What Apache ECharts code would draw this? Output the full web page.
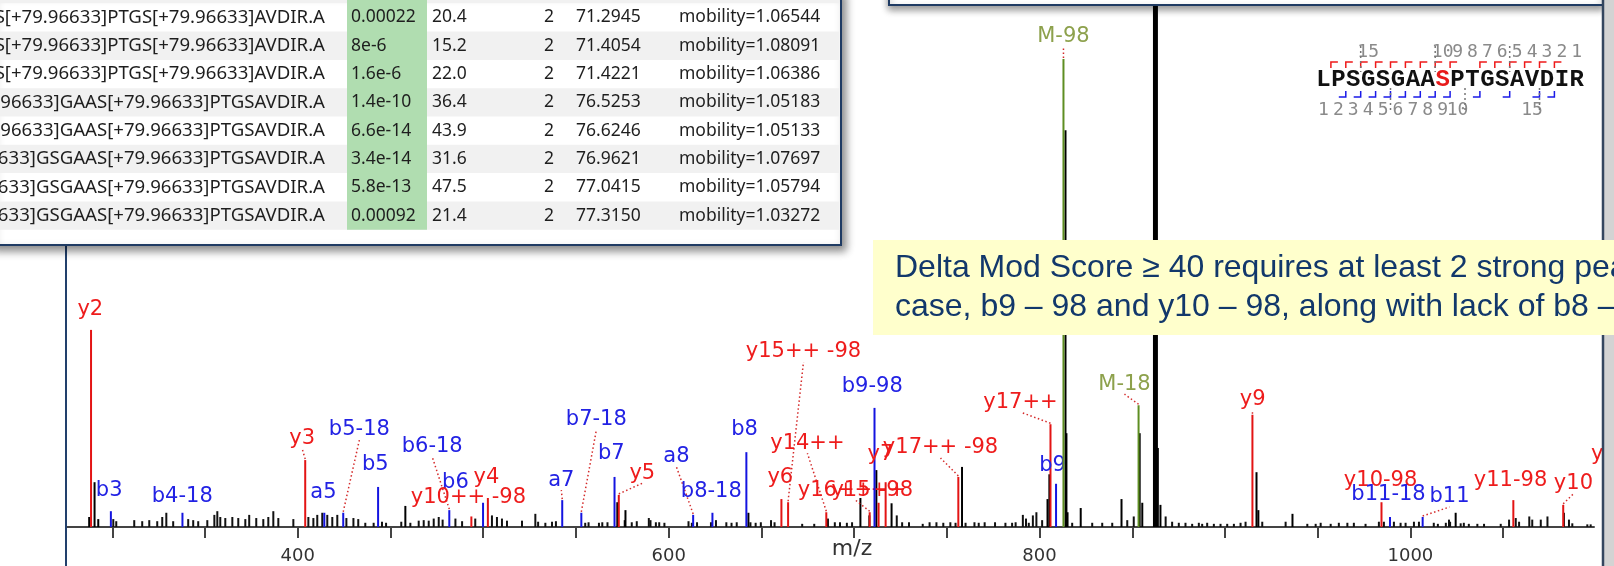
<!DOCTYPE html>
<html>
<head>
<meta charset="utf-8">
<script src="https://cdn.jsdelivr.net/npm/echarts@6.0.0/dist/echarts.min.js"></script>
<style>
html, body { margin: 0; padding: 0; background: #fff; }
#spectrum { width: 1614px; height: 566px; }
</style>
</head>
<body>
<div id="spectrum"></div>
<script>
// m/z axis
const mzMin = 275, mzMax = 1099;
const tickValues = [300, 350, 400, 450, 500, 550, 600, 650, 700, 750, 800, 850, 900, 950, 1000, 1050];
const tickLabels = [400, 600, 800, 1000];

// matched fragment ions: name, peak m/z, peak intensity (% of plot height), label anchor
const ionNames = ['y2', 'b3', 'b4-18', 'y3', 'a5', 'b5-18', 'b5', 'b6-18', 'b6', 'y4', 'y10++ -98', 'a7',
  'b7-18', 'b7', 'y5', 'a8', 'b8-18', 'b8', 'y6', 'y15++ -98', 'y14++', 'y16++ -98', 'y15++', 'b9-98', 'y7',
  'y17++ -98', 'y17++', 'b9', 'M-98', 'M-18', 'y9', 'y10-98', 'b11-18', 'b11', 'y11-98', 'y10', 'y11'];
const ionMz = [288.5, 299.2, 337.8, 404.0, 414.3, 424.5, 443.3, 481.7, 499.9, 502.5, 493.6, 542.6,
  552.9, 570.8, 573.1, 613.2, 623.6, 641.9, 660.8, 664.4, 685.0, 708.4, 713.2, 711.0, 717.0,
  756.2, 805.9, 808.9, 812.9, 853.4, 914.8, 984.4, 989.0, 1006.6, 1055.5, 1082.4, 1108.0];
const ionIntensity = [37.4, 3.0, 2.7, 12.7, 2.7, 2.7, 7.6, 3.2, 4.6, 5.5, 2.0, 5.1,
  2.7, 9.5, 6.1, 2.3, 2.7, 14.2, 5.3, 4.7, 2.8, 2.8, 4.6, 22.6, 8.5,
  9.5, 19.5, 8.2, 88.8, 23.1, 21.3, 4.7, 1.9, 1.9, 5.1, 4.2, 9.0];
const labelMz = [288.1, 298.3, 337.7, 402.4, 413.8, 433.2, 441.8, 472.5, 485.0, 501.7, 492.0, 542.1,
  561.0, 569.1, 585.8, 604.2, 623.0, 640.9, 660.2, 672.7, 674.8, 700.7, 707.8, 709.8, 714.2,
  746.6, 789.7, 807.0, 812.9, 845.8, 914.9, 983.9, 988.2, 1021.1, 1054.0, 1087.9, 1108.0];
const labelIntensity = [41.2, 7.0, 5.7, 16.7, 6.6, 18.4, 11.8, 15.2, 8.5, 9.3, 5.5, 8.9,
  20.3, 14.0, 10.2, 13.3, 6.8, 18.4, 9.3, 33.2, 15.9, 7.0, 7.0, 26.6, 13.7,
  15.0, 23.7, 11.6, 93.0, 27.1, 24.1, 8.9, 6.1, 5.7, 8.9, 8.2, 13.7];
const leaderIons = ['y3', 'b5-18', 'b6-18', 'a7', 'b7-18', 'y5', 'a8', 'y15++ -98', 'y14++', 'y16++ -98',
  'y17++ -98', 'y17++', 'M-98', 'M-18', 'y9', 'b11', 'y10'];

// unmatched peaks [m/z, intensity]
const otherPeaks = [
  [290.4, 8.5], [287.5, 1.9], [292.4, 1.5], [458.0, 4.0], [572.3, 4.7], [576.7, 3.2], [643.0, 2.7],
  [703.4, 5.5], [712.0, 10.8], [720.2, 4.5], [758.2, 11.4], [805.3, 10.0], [804.3, 5.3],
  [814.0, 75.3], [814.5, 17.8], [815.1, 2.8], [822.2, 3.6], [844.2, 5.3], [854.0, 17.8], [855.4, 4.6],
  [861.7, 100], [862.2, 100], [862.8, 100], [863.3, 100], [863.8, 15.0], [865.2, 4.2],
  [917.0, 10.4], [918.0, 3.2], [936.4, 2.5], [1024.4, 2.7]
];
const noisePeaks = [
  [300.5, 1.5], [302.1, 1.1], [311.8, 1.3], [316.1, 1.1], [319.9, 1.3], [324.2, 1.1], [326.9, 1.9], [329.1, 2.7],
  [332.8, 1.1], [340.9, 1.5], [343.6, 1.3], [346.3, 1.1], [351.2, 1.3], [355.0, 2.3], [356.6, 3.0], [358.2, 1.9],
  [360.9, 1.7], [364.7, 1.9], [367.9, 1.7], [371.7, 1.5], [373.8, 2.3], [377.6, 1.7], [381.4, 1.5], [384.1, 1.9],
  [386.8, 3.0], [389.5, 1.7], [397.6, 1.5], [405.7, 1.9], [408.4, 1.7], [410.5, 2.3], [413.2, 2.7], [415.9, 2.3],
  [418.6, 1.9], [421.3, 2.3], [426.2, 1.7], [430.0, 1.7], [432.6, 1.5], [436.4, 0.8], [440.9, 0.8], [445.4, 1.0],
  [447.6, 0.8], [455.8, 1.0], [460.7, 0.8], [465.2, 1.2], [467.9, 1.3], [470.6, 1.2], [473.3, 1.6], [476.0, 1.9],
  [478.1, 1.4], [485.0, 1.6], [488.6, 1.1], [495.7, 1.6], [504.7, 2.2], [507.4, 1.9], [510.1, 1.6], [512.8, 1.2],
  [520.9, 1.2], [528.1, 2.5], [529.6, 1.0], [533.5, 0.8], [537.1, 1.0], [539.2, 1.1], [555.0, 0.8], [556.8, 0.9],
  [562.4, 0.8], [564.2, 0.9], [567.0, 0.9], [576.3, 1.3], [580.1, 0.9], [582.8, 1.1], [589.3, 1.7], [590.2, 1.3],
  [593.1, 0.9], [594.9, 0.9], [597.7, 0.8], [610.7, 1.1], [612.5, 0.8], [615.3, 0.9], [622.8, 0.9], [625.5, 1.3],
  [631.1, 0.9], [633.9, 0.8], [636.7, 0.9], [644.1, 0.9], [646.9, 0.8], [649.7, 0.9], [655.2, 1.3], [657.1, 0.9],
  [672.0, 0.6], [678.5, 0.6], [685.9, 1.6], [689.6, 0.9], [692.4, 0.9], [696.1, 0.8], [698.9, 0.9], [708.2, 2.2],
  [723.0, 2.2], [725.9, 0.9], [729.6, 0.9], [737.0, 0.6], [740.7, 0.9], [744.4, 0.9], [748.1, 0.8], [751.9, 0.9],
  [754.7, 0.8], [760.1, 0.8], [764.9, 0.9], [767.2, 0.8], [770.4, 0.9], [776.0, 0.9], [781.6, 0.8], [785.2, 0.8],
  [787.1, 0.9], [791.0, 2.3], [792.7, 1.6], [794.2, 0.8], [796.4, 2.2], [798.3, 2.8], [801.4, 1.3], [817.6, 0.8],
  [828.4, 0.8], [833.8, 0.8], [839.2, 0.8], [847.3, 1.3], [850.8, 2.0], [868.0, 2.0], [871.5, 1.0], [875.1, 0.8],
  [878.7, 0.8], [882.3, 0.6], [885.9, 0.8], [887.7, 0.6], [890.4, 0.8], [894.0, 0.6], [897.6, 0.6], [901.2, 0.6],
  [904.8, 0.6], [908.4, 0.8], [911.1, 1.0], [920.1, 1.0], [932.7, 1.0], [944.4, 0.6], [948.9, 0.6], [951.6, 0.8],
  [957.0, 0.6], [961.4, 0.8], [966.0, 0.8], [969.5, 0.8], [975.8, 0.6], [983.0, 1.0], [985.7, 1.0], [991.1, 1.0],
  [994.7, 0.8], [997.4, 0.8], [1001.9, 1.0], [1004.6, 1.0], [1012.6, 0.8], [1014.8, 0.6], [1019.1, 0.8],
  [1020.8, 1.4], [1021.4, 1.0], [1027.1, 0.7], [1028.8, 0.8], [1031.5, 0.6], [1036.1, 0.6], [1039.7, 0.6],
  [1048.7, 0.6], [1053.2, 1.4], [1056.8, 1.7], [1058.6, 1.0], [1064.1, 2.0], [1065.7, 1.4], [1070.3, 1.4],
  [1073.9, 2.0], [1082.8, 2.7], [1085.5, 1.4], [1087.3, 0.7], [1095.4, 0.5], [1097.2, 0.5]
];

// peptide match table (popup)
const tableSequences = [
  'K.LPSGSGAAS[+79.96633]PTGS[+79.96633]AVDIR.A', 'K.LPSGSGAAS[+79.96633]PTGS[+79.96633]AVDIR.A',
  'K.LPSGSGAAS[+79.96633]PTGS[+79.96633]AVDIR.A', 'K.LPSGS[+79.96633]GAAS[+79.96633]PTGSAVDIR.A',
  'K.LPSGS[+79.96633]GAAS[+79.96633]PTGSAVDIR.A', 'K.LPS[+79.96633]GSGAAS[+79.96633]PTGSAVDIR.A',
  'K.LPS[+79.96633]GSGAAS[+79.96633]PTGSAVDIR.A', 'K.LPS[+79.96633]GSGAAS[+79.96633]PTGSAVDIR.A'];
const tablePValues = ['0.00022', '8e-6', '1.6e-6', '1.4e-10', '6.6e-14', '3.4e-14', '5.8e-13', '0.00092'];
const tableScores = ['20.4', '15.2', '22.0', '36.4', '43.9', '31.6', '47.5', '21.4'];
const tableCharges = ['2', '2', '2', '2', '2', '2', '2', '2'];
const tableRetention = ['71.2945', '71.4054', '71.4221', '76.5253', '76.6246', '76.9621', '77.0415', '77.3150'];
const tableMobility = ['mobility=1.06544', 'mobility=1.08091', 'mobility=1.06386', 'mobility=1.05183',
  'mobility=1.05133', 'mobility=1.07697', 'mobility=1.05794', 'mobility=1.03272'];

// sequence coverage graphic
const peptide = 'LPSGSGAASPTGSAVDIR';
const phosphoSite = 8;
const yBreaks = [1, 2, 3, 4, 5, 6, 7, 8, 9, 11, 12, 13, 14, 15, 16];
const bBreaks = [2, 3, 4, 5, 6, 7, 8, 9, 11, 13, 15, 16];
const yNumbers = [1, 2, 3, 4, 5, 6, 7, 8, 9, 10, 15];
const bNumbers = [1, 2, 3, 4, 5, 6, 7, 8, 9, 10, 15];

const calloutLines = ['Delta Mod Score \u2265 40 requires at least 2 strong peaks', 'case, b9 \u2013 98 and y10 \u2013 98, along with lack of b8 \u2013 98'];

function ionStroke(name) {
  const c = name.charAt(0);
  return c === 'y' ? '#e31414' : c === 'M' ? '#5e8e22' : '#1414e0';
}
function ionText(name) {
  const c = name.charAt(0);
  return c === 'y' ? '#ee1c1c' : c === 'M' ? '#8da14c' : '#2222e4';
}

const peakLine = (color) => function (params, api) {
  const b = api.coord([api.value(0), 0]);
  const t = api.coord([api.value(0), api.value(1)]);
  return { type: 'line', shape: { x1: b[0], y1: b[1], x2: t[0], y2: t[1] }, style: { stroke: color, lineWidth: 2 } };
};

function renderIon(params, api) {
  const i = params.dataIndex;
  const name = ionNames[i];
  const b = api.coord([ionMz[i], 0]);
  const t = api.coord([ionMz[i], ionIntensity[i]]);
  const l = api.coord([labelMz[i], labelIntensity[i]]);
  const children = [{ type: 'line', shape: { x1: b[0], y1: b[1], x2: t[0], y2: t[1] }, style: { stroke: ionStroke(name), lineWidth: 2 } }];
  if (leaderIons.indexOf(name) >= 0 && l[1] + 10 < t[1] - 1) {
    children.push({ type: 'line', shape: { x1: t[0], y1: t[1] - 1, x2: l[0], y2: l[1] + 10 },
      style: { stroke: '#d42a2a', lineWidth: 1.5, lineDash: [1.5, 2.5] } });
  }
  children.push({ type: 'text', style: { text: name, x: l[0], y: l[1], fill: ionText(name),
    font: '21px "DejaVu Sans"', align: 'center', verticalAlign: 'middle' } });
  return { type: 'group', children: children };
}

// ---- overlay graphics ----
const g = [];
// y axis line of the slide
g.push({ type: 'line', z: 5, shape: { x1: 66, y1: 0, x2: 66, y2: 566 }, style: { stroke: '#22406c', lineWidth: 2 } });
g.push({ type: 'text', z: 5, x: 852, y: 549, style: { text: 'm/z', font: '22px "DejaVu Sans"', fill: '#333', align: 'center', verticalAlign: 'middle' } });

// sequence coverage
const sx0 = 1316, pitch = 14.9;
for (let i = 0; i < peptide.length; i++) {
  g.push({ type: 'text', z: 10, x: sx0 + (i + 0.5) * pitch, y: 80, style: { text: peptide[i],
    font: 'bold 24px "Liberation Mono"', fill: i === phosphoSite ? '#e81a1a' : '#111', align: 'center', verticalAlign: 'middle' } });
}
yBreaks.forEach(k => {
  const x = sx0 + k * pitch;
  g.push({ type: 'polyline', z: 10, shape: { points: [[x, 68], [x, 62], [x + 7, 62]] }, style: { stroke: '#ee1a1a', lineWidth: 1.5, fill: null } });
});
bBreaks.forEach(k => {
  const x = sx0 + k * pitch;
  g.push({ type: 'polyline', z: 10, shape: { points: [[x - 7, 97], [x, 97], [x, 91]] }, style: { stroke: '#1a1ae8', lineWidth: 1.5, fill: null } });
});
yNumbers.forEach(k => {
  g.push({ type: 'text', z: 10, x: sx0 + (18.5 - k) * pitch, y: 52, style: { text: String(k),
    font: '18px "DejaVu Sans Mono"', fill: '#8a8a8a', align: 'center', verticalAlign: 'middle' } });
});
bNumbers.forEach(k => {
  g.push({ type: 'text', z: 10, x: sx0 + (k - 0.5) * pitch, y: 110, style: { text: String(k),
    font: '18px "DejaVu Sans Mono"', fill: '#8a8a8a', align: 'center', verticalAlign: 'middle' } });
});
[5, 10, 15].forEach(k => {
  const xt = sx0 + (18 - k) * pitch, xb = sx0 + k * pitch;
  g.push({ type: 'line', z: 10, shape: { x1: xt, y1: 46, x2: xt, y2: 72 }, style: { stroke: '#777', lineWidth: 1.5, lineDash: [2, 3] } });
  g.push({ type: 'line', z: 10, shape: { x1: xb, y1: 88, x2: xb, y2: 112 }, style: { stroke: '#777', lineWidth: 1.5, lineDash: [2, 3] } });
});

// table popup
g.push({ type: 'rect', z: 100, shape: { x: -10, y: -10, width: 851, height: 255 },
  style: { fill: '#fff', stroke: '#1f3b63', lineWidth: 2, shadowBlur: 8, shadowOffsetX: 4, shadowOffsetY: 5, shadowColor: 'rgba(0,0,0,0.45)' } });
const rowH = 28.3, row0 = 3.3;
g.push({ type: 'rect', z: 100, shape: { x: -10, y: -10, width: 849, height: row0 + 10 }, style: { fill: '#f1f1f1' } });
for (let r = 0; r < tablePValues.length; r++) {
  if (r % 2 === 1) g.push({ type: 'rect', z: 100, shape: { x: -10, y: row0 + r * rowH, width: 849, height: rowH }, style: { fill: '#f1f1f1' } });
}
g.push({ type: 'rect', z: 100, shape: { x: 347, y: -10, width: 80, height: row0 + 10 + rowH * tablePValues.length }, style: { fill: '#b0ddb0' } });
for (let r = 0; r < tablePValues.length; r++) {
  const cy = row0 + (r + 0.5) * rowH;
  const cells = [[tableSequences[r], 325, 'right', 18.6], [tablePValues[r], 351, 'left', 17.5], [tableScores[r], 432, 'left', 17.5],
    [tableCharges[r], 554, 'right', 17.5], [tableRetention[r], 576, 'left', 17.5], [tableMobility[r], 679, 'left', 17.5]];
  cells.forEach(c => g.push({ type: 'text', z: 100, x: c[1], y: cy, style: { text: c[0], font: c[3] + 'px "Noto Sans"',
    fill: '#1e1e1e', align: c[2], verticalAlign: 'middle' } }));
}
g.push({ type: 'rect', z: 100, shape: { x: -10, y: -10, width: 851, height: 255 }, style: { fill: null, stroke: '#1f3b63', lineWidth: 2 } });

// second popup (top right, cut off)
g.push({ type: 'rect', z: 100, shape: { x: 889, y: -20, width: 714, height: 25 },
  style: { fill: '#fff', stroke: '#1f3b63', lineWidth: 2, shadowBlur: 7, shadowOffsetX: 0, shadowOffsetY: 4, shadowColor: 'rgba(0,0,0,0.4)' } });

// right window frame
g.push({ type: 'rect', z: 100, shape: { x: 1602, y: 0, width: 12, height: 566 }, style: { fill: '#d3d3d3' } });
g.push({ type: 'line', z: 100, shape: { x1: 1603, y1: 0, x2: 1603, y2: 566 }, style: { stroke: '#34465f', lineWidth: 2.5 } });

// callout
g.push({ type: 'rect', z: 110, shape: { x: 873, y: 240, width: 760, height: 95 }, style: { fill: '#ffffcc' } });
calloutLines.forEach((t, i) => g.push({ type: 'text', z: 110, x: 895, y: 268 + i * 39, style: { text: t,
  font: '32px "Liberation Sans"', fill: '#12386b', align: 'left', verticalAlign: 'middle' } }));

const chart = echarts.init(document.getElementById('spectrum'), null, { renderer: 'canvas' });
chart.setOption({
  animation: false,
  backgroundColor: '#fff',
  grid: { left: 66, right: 20, top: 0, bottom: 39 },
  xAxis: {
    type: 'value', min: mzMin, max: mzMax,
    splitLine: { show: false },
    axisLine: { lineStyle: { color: '#444', width: 2 } },
    axisTick: { show: true, length: 11, lineStyle: { color: '#444', width: 2 }, customValues: tickValues },
    axisLabel: { margin: 20, color: '#333', fontSize: 18, fontFamily: 'DejaVu Sans', customValues: tickLabels,
      formatter: v => String(v) }
  },
  yAxis: { type: 'value', min: 0, max: 100, show: false },
  series: [
    { type: 'custom', z: 2, clip: false, data: noisePeaks, encode: { x: 0, y: 1 }, renderItem: peakLine('#111') },
    { type: 'custom', z: 3, clip: false, data: otherPeaks, encode: { x: 0, y: 1 }, renderItem: peakLine('#000') },
    { type: 'custom', z: 4, clip: false, data: ionMz.map((m, i) => [m, ionIntensity[i]]), encode: { x: 0, y: 1 }, renderItem: renderIon }
  ],
  graphic: { elements: g }
});
</script>
</body>
</html>
